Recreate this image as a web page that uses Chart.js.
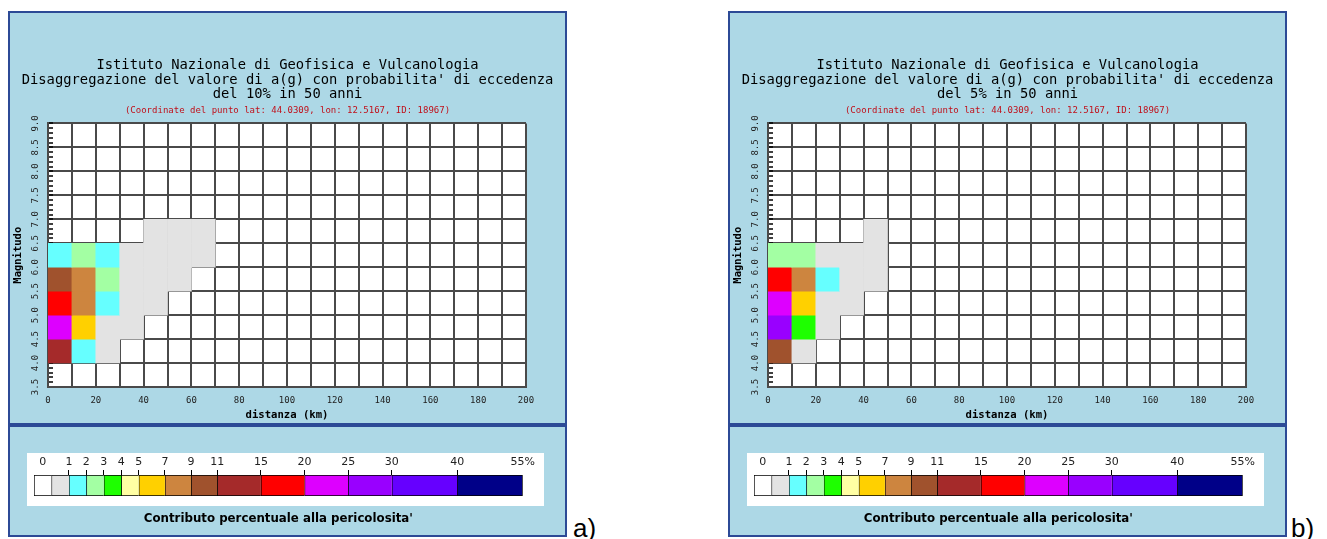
<!DOCTYPE html>
<html>
<head>
<meta charset="utf-8">
<script src="https://cdn.jsdelivr.net/npm/chart.js@4.4.1/dist/chart.umd.min.js"></script>
<style>
  body { margin:0; background:#fff; width:1327px; height:539px; position:relative; overflow:hidden; }
  .box { position:absolute; box-sizing:border-box; border:2px solid #2c4a96; background:#add8e6; }
  .top { top:11px; width:559px; height:414px; }
  .bot { top:425px; width:559px; height:112px; }
  .box canvas { position:absolute; left:0; top:0; }
  .white { position:absolute; left:17px; top:26px; width:517px; height:53px; background:#fff; }
  .tag { position:absolute; top:515px; font:26px "Liberation Sans", Arial, sans-serif; line-height:1; color:#000; }
</style>
</head>
<body>

<div class="box top" style="left:8px"><canvas id="mapA" width="555" height="410"></canvas></div>
<div class="box bot" style="left:8px"><div class="white"></div><canvas id="legA" width="555" height="108"></canvas></div>
<div class="tag" style="left:573px">a)</div>

<div class="box top" style="left:728px"><canvas id="mapB" width="555" height="410"></canvas></div>
<div class="box bot" style="left:728px"><div class="white"></div><canvas id="legB" width="555" height="108"></canvas></div>
<div class="tag" style="left:1291px">b)</div>

<script>
// ------------------- DATA -------------------
// distance bins (km, lower edge) and magnitude bins (lower edge) that carry some contribution
const distLow = [0, 10, 20, 30, 40, 50, 60];
const magLow = [4.0, 4.5, 5.0, 5.5, 6.0, 6.5];
const distStep = 10;
const magStep = 0.5;

// percentage contribution, one row per magnitude bin (everything else is 0)
const contribA = [
  [13.0, 1.5, 0.6, 0.0, 0.0, 0.0, 0.0],
  [21.5, 6.0, 0.6, 0.4, 0.0, 0.0, 0.0],
  [17.0, 8.0, 1.5, 0.6, 0.3, 0.0, 0.0],
  [10.0, 8.0, 2.5, 0.7, 0.4, 0.2, 0.0],
  [1.6, 2.4, 1.4, 0.6, 0.4, 0.3, 0.2],
  [0.0, 0.0, 0.0, 0.0, 0.2, 0.2, 0.1]
];
const contribB = [
  [9.5, 0.8, 0.0, 0.0, 0.0, 0.0, 0.0],
  [25.5, 3.5, 0.7, 0.0, 0.0, 0.0, 0.0],
  [20.5, 6.0, 0.8, 0.4, 0.0, 0.0, 0.0],
  [16.0, 8.0, 1.5, 0.6, 0.3, 0.0, 0.0],
  [2.5, 2.2, 0.7, 0.5, 0.3, 0.0, 0.0],
  [0.0, 0.0, 0.0, 0.0, 0.2, 0.0, 0.0]
];

const titleA = ['Istituto Nazionale di Geofisica e Vulcanologia',
  "Disaggregazione del valore di a(g) con probabilita' di eccedenza", 'del 10% in 50 anni'];
const titleB = ['Istituto Nazionale di Geofisica e Vulcanologia',
  "Disaggregazione del valore di a(g) con probabilita' di eccedenza", 'del 5% in 50 anni'];
const coordText = '(Coordinate del punto lat: 44.0309, lon: 12.5167, ID: 18967)';

// colour classes of the legend (upper limit of each class, in %)
const legendLabels = ['0', '1', '2', '3', '4', '5', '7', '9', '11', '15', '20', '25', '30', '40', '55%'];
const legendLimits = [0, 1, 2, 3, 4, 5, 7, 9, 11, 15, 20, 25, 30, 40, 55];
const legendColors = ['#ffffff', '#e3e3e3', '#66ffff', '#a3ffa3', '#1eff00', '#ffffa3', '#ffd000',
  '#cd853f', '#a0522d', '#a52a2a', '#ff0000', '#dd00ff', '#9900ff', '#6600ff', '#000088'];
const legendSpan = [1, 1, 1, 1, 1, 1, 1.5, 1.5, 1.5, 2.5, 2.5, 2.5, 2.5, 3.75, 3.75];

// ------------------- HELPERS -------------------
const mono = "'DejaVu Sans Mono', monospace";
const sans = "'DejaVu Sans', Verdana, sans-serif";
const gridColor = '#4a4a4a';

function colorFor(v) {
  if (v <= 0) return legendColors[0];
  for (let i = 1; i < legendLimits.length; i++) {
    if (v <= legendLimits[i]) return legendColors[i];
  }
  return legendColors[legendColors.length - 1];
}

function isMajor(v) {
  return Math.abs(v / magStep - Math.round(v / magStep)) < 1e-6;
}

function cells(contrib) {
  const out = [];
  magLow.forEach((m, r) => {
    distLow.forEach((d, c) => {
      const v = contrib[r][c];
      if (v > 0) out.push({ x: d + distStep / 2, y: [m, m + magStep], v });
    });
  });
  return out;
}

const whiteArea = {
  id: 'whiteArea',
  beforeDraw(chart) {
    const a = chart.chartArea;
    chart.ctx.save();
    chart.ctx.fillStyle = '#fff';
    chart.ctx.fillRect(a.left, a.top, a.right - a.left, a.bottom - a.top);
    chart.ctx.restore();
  }
};

function makeMap(id, title, contrib) {
  return new Chart(document.getElementById(id), {
    type: 'bar',
    data: {
      datasets: [{
        data: cells(contrib),
        backgroundColor: c => colorFor(c.raw ? c.raw.v : 0),
        borderWidth: 0,
        barPercentage: 1,
        categoryPercentage: 1
      }]
    },
    options: {
      responsive: false,
      animation: false,
      events: [],
      layout: { padding: 0 },
      plugins: {
        legend: { display: false },
        tooltip: { enabled: false },
        title: {
          display: true, text: title, color: '#000',
          font: { family: mono, size: 13.8, weight: 'normal', lineHeight: 1.05 },
          padding: { top: 45.5, bottom: 0 }
        },
        subtitle: {
          display: true, text: coordText, color: '#c0101a',
          font: { family: mono, size: 9, weight: 'normal', lineHeight: 1.2 },
          padding: { top: 2.9, bottom: 7.8 }
        }
      },
      scales: {
        x: {
          type: 'linear', min: 0, max: 200, offset: false, z: 1,
          grid: { offset: false, color: gridColor, lineWidth: 2, drawTicks: false },
          border: { color: gridColor, width: 2 },
          ticks: {
            stepSize: distStep, autoSkip: false, maxRotation: 0, padding: 8.6, color: '#222',
            font: { family: mono, size: 9 },
            callback: v => (v % 20 === 0 ? String(v) : '')
          },
          title: {
            display: true, text: 'distanza (km)', color: '#000',
            font: { family: mono, size: 10.6, weight: 'bold', lineHeight: 1.2 },
            padding: { top: 0, bottom: 1 }
          },
          afterFit: s => { s.height = 36; }
        },
        y: {
          type: 'linear', min: 3.5, max: 9.0, z: 1,
          grid: {
            color: c => (isMajor(c.tick.value) ? gridColor : 'rgba(0,0,0,0)'),
            lineWidth: 2, tickLength: -5, tickColor: '#000', tickWidth: 1.5
          },
          border: { color: gridColor, width: 2 },
          ticks: {
            stepSize: 0.1, autoSkip: false, minRotation: 90, maxRotation: 90,
            crossAlign: 'center', padding: 8.9, color: '#222',
            font: { family: mono, size: 9 },
            callback: v => (isMajor(v) ? v.toFixed(1) : '')
          },
          title: {
            display: true, text: 'Magnitudo', color: '#000',
            font: { family: mono, size: 10.5, weight: 'bold', lineHeight: 1.2 },
            padding: { top: 1.7, bottom: 0 }
          },
          afterFit: s => { s.width = 38; }
        },
        // empty strip on the right, keeps the titles centred on the panel
        yRight: {
          type: 'linear', position: 'right', display: true, min: 0, max: 1,
          grid: { display: false, drawTicks: false },
          border: { display: false },
          ticks: { display: false },
          afterFit: s => { s.width = 39; }
        }
      }
    },
    plugins: [whiteArea]
  });
}

function makeLegend(id) {
  const cum = legendSpan.reduce((a, s) => { a.push(a[a.length - 1] + s); return a; }, [0]);
  const tickPos = legendLabels.map((_, i) => (i === 0 ? legendSpan[0] / 2 : cum[i + 1]));
  const last = legendColors.length - 1;
  return new Chart(document.getElementById(id), {
    type: 'bar',
    data: {
      labels: [''],
      datasets: legendColors.map((c, i) => ({
        data: [legendSpan[i]],
        backgroundColor: c,
        borderColor: '#000',
        borderWidth: { top: 1, bottom: 1, left: 1, right: i === last ? 1 : 0 },
        borderSkipped: false,
        barPercentage: 1,
        categoryPercentage: 1
      }))
    },
    options: {
      indexAxis: 'y',
      responsive: false,
      animation: false,
      events: [],
      layout: { padding: { left: 24, right: 42.3, top: 28, bottom: 0 } },
      plugins: {
        legend: { display: false },
        tooltip: { enabled: false },
        title: {
          display: true, position: 'bottom', fullSize: false,
          text: "Contributo percentuale alla pericolosita'", color: '#000',
          font: { family: sans, size: 11.8, weight: 'bold', lineHeight: 1.2 },
          padding: { top: 15.9, bottom: 8.9 }
        }
      },
      scales: {
        x: {
          type: 'linear', position: 'top', stacked: true, min: 0, max: cum[cum.length - 1], bounds: 'data',
          grid: {
            drawOnChartArea: false, tickLength: 5, lineWidth: 1,
            tickColor: c => (c.index === 0 || c.index === legendLabels.length - 1 ? 'rgba(0,0,0,0)' : '#000')
          },
          border: { display: false },
          ticks: {
            autoSkip: false, maxRotation: 0, padding: 1, color: '#222',
            font: { family: sans, size: 11 },
            callback: (v, i) => legendLabels[i]
          },
          afterBuildTicks: s => { s.ticks = tickPos.map(value => ({ value })); },
          afterFit: s => { s.height = 20; }
        },
        y: { stacked: true, display: false }
      }
    }
  });
}

makeMap('mapA', titleA, contribA);
makeMap('mapB', titleB, contribB);
makeLegend('legA');
makeLegend('legB');
</script>
</body>
</html>
